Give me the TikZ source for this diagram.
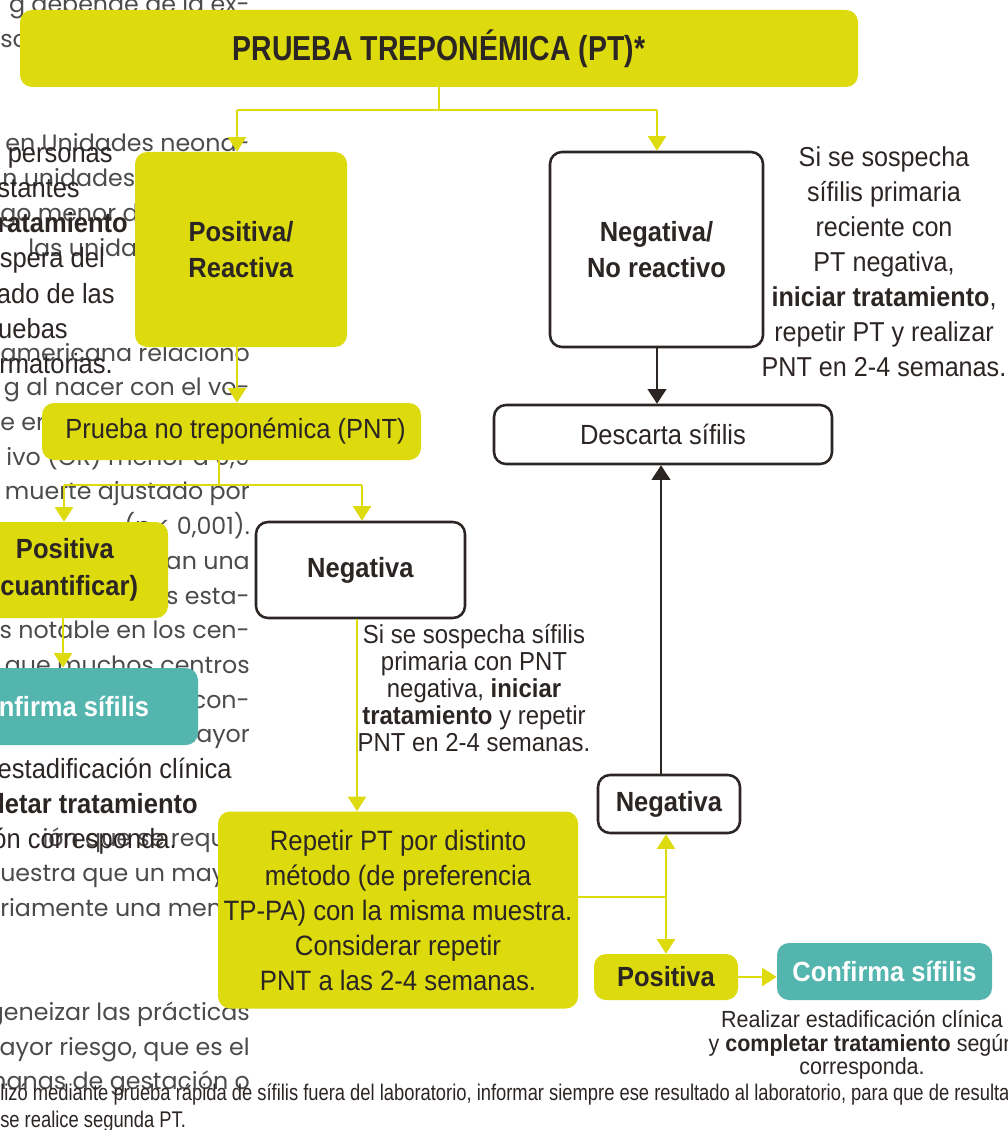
\documentclass[tikz,border=0pt]{standalone}
\usepackage{fontspec}
\setmainfont{Liberation Sans}[FakeStretch=0.92]
\newfontfamily\titlefont{Liberation Sans}[FakeStretch=0.82]
\newfontfamily\notefont{Liberation Sans}[FakeStretch=0.81]
\newfontfamily\prosefont{Poppins}
\usetikzlibrary{arrows.meta}
\definecolor{yel}{RGB}{221,218,14}
\definecolor{tealc}{RGB}{84,181,174}
\definecolor{ink}{RGB}{43,37,35}
\definecolor{prosec}{RGB}{75,75,75}
\tikzset{
  box/.style={rounded corners=9pt, inner sep=0pt, align=center, text=ink,
    font=\fontsize{20.8}{27.5}\selectfont},
  ybox/.style={box, fill=yel},
  wbox/.style={box, fill=white, draw=ink, line width=1.9pt},
  tbox/.style={box, fill=tealc, text=white},
  yl/.style={draw=yel, line width=1.9pt},
  ya/.style={yl, -{Triangle[width=13.5pt,length=11pt]}},
  da/.style={draw=ink, line width=1.6pt, -{Triangle[width=14pt,length=11pt]}},
  prose/.style={inner sep=0pt, text=prosec, font=\prosefont\fontsize{17.8}{20}\selectfont},
  darkline/.style={inner sep=0pt, text=ink, font=\fontsize{20.8}{26}\selectfont},
  note/.style={inner sep=0pt, align=center, text=ink},
}
\begin{document}
\begin{tikzpicture}[x=0.75pt,y=-0.75pt]
\useasboundingbox (0,0) rectangle (1007,1130);
\clip (0,0) rectangle (1007,1130);

% running text of the page column behind the chart
\node[prose, anchor=base east] (p01) at (250,13) {g depende de la ex-};
\node[prose, anchor=base west] (p02) at (0,48) {so};
\node[prose, anchor=base east] (p03) at (250,152) {s en Unidades neona-};
\node[prose, anchor=base west] (p04) at (2,187) {n unidades de};
\node[prose, anchor=base west] (p05) at (0,222) {go menor de};
\node[prose, anchor=base west] (p06) at (28,257) {las unidades};
\node[prose, anchor=base east] (p07) at (250,361) {oamericana relacionó};
\node[prose, anchor=base east] (p08) at (250,395) {g al nacer con el vo-};
\node[prose, anchor=base west] (p09) at (0,430) {e en};
\node[prose, anchor=base east] (p10) at (250,465) {ivo (OR) menor a 0,9};
\node[prose, anchor=base east] (p11) at (250,499) {muerte ajustado por};
\node[prose, anchor=base east] (p12) at (250,534) {(p < 0,001).};
\node[prose, anchor=base east] (p13) at (250,569) {an una};
\node[prose, anchor=base east] (p14) at (250,604) {s esta-};
\node[prose, anchor=base east] (p15) at (250,638) {s notable en los cen-};
\node[prose, anchor=base east] (p16) at (250,673) {que muchos centros};
\node[prose, anchor=base east] (p17) at (250,708) {con-};
\node[prose, anchor=base east] (p18) at (250,742) {mayor};
\node[prose, anchor=base east] (p19) at (226,846) {ión que se requ};
\node[prose, anchor=base west] (p20) at (0,881) {uestra que un mayor};
\node[prose, anchor=base west] (p21) at (0,916) {riamente una menor};
\node[prose, anchor=base east] (p22) at (250,1020) {geneizar las prácticas};
\node[prose, anchor=base east] (p23) at (250,1055) {ayor riesgo, que es el};
\node[prose, anchor=base east] (p24) at (250,1089) {manas de gestación o};

% left column of the neighbouring chart
\node[darkline, anchor=base east] (d01) at (113,163) {s personas};
\node[darkline, anchor=base east] (d02) at (80,198) {stantes};
\node[darkline, anchor=base east] (d03) at (128,233) {\textbf{tratamiento}};
\node[darkline, anchor=base east] (d04) at (105,268) {spera del};
\node[darkline, anchor=base east] (d05) at (115,303) {ado de las};
\node[darkline, anchor=base east] (d06) at (68,338) {uebas};
\node[darkline, anchor=base east] (d07) at (113,373) {rmatorias.};
\node[darkline, anchor=base east] (d08) at (232,778) {estadificación clínica};
\node[darkline, anchor=base east] (d09) at (198,813) {\textbf{completar tratamiento}};
\node[darkline, anchor=base east] (d10) at (177,848) {ión corresponda.};

% footnote
\node[inner sep=0pt, text=ink, anchor=base west, font=\notefont\fontsize{17}{20}\selectfont] (fn1) at (0,1100)
  {lizó mediante prueba rápida de sífilis fuera del laboratorio, informar siempre ese resultado al laboratorio, para que de resulta};
\node[inner sep=0pt, text=ink, anchor=base west, font=\notefont\fontsize{17}{20}\selectfont] (fn2) at (0,1127)
  {se realice segunda PT.};

% boxes
\node[ybox, minimum width=628.5pt, minimum height=57.75pt,
      font=\titlefont\bfseries\fontsize{26}{30}\selectfont] (title) at (439,48.5) {PRUEBA TREPONÉMICA (PT)*};
\node[ybox, minimum width=159pt, minimum height=146.25pt] (pos) at (241,249.5) {\textbf{Positiva/}\\\textbf{Reactiva}};
\node[wbox, minimum width=159.75pt, minimum height=146.25pt] (neg) at (656.5,249.5) {\textbf{Negativa/}\\\textbf{No reactivo}};
\node[wbox, minimum width=253.5pt, minimum height=44.25pt] (desc) at (663,434.5) {Descarta sífilis};
\node[ybox, minimum width=284.25pt, minimum height=42.75pt] (pnt) at (231.5,431.5) {\hspace*{6pt}Prueba no treponémica (PNT)};
\node[ybox, minimum width=154.5pt, minimum height=72pt] (posq) at (65,570) {\textbf{Positiva}\\\textbf{(cuantificar)}};
\node[tbox, minimum width=211.5pt, minimum height=57.75pt] (confl) at (57,706.5) {\textbf{Confirma sífilis}};
\node[wbox, minimum width=156.75pt, minimum height=72pt] (negm) at (360.5,570) {\textbf{Negativa}};
\node[ybox, minimum width=270pt, minimum height=147.75pt, font=\fontsize{21}{26.25}\selectfont] (rep) at (398,910)
  {Repetir PT por distinto\\método (de preferencia\\TP-PA) con la misma muestra.\\Considerar repetir\\PNT a las 2-4 semanas.};
\node[wbox, minimum width=106.5pt, minimum height=43.5pt] (negs) at (669,804) {\textbf{Negativa}};
\node[ybox, minimum width=108pt, minimum height=34.5pt] (poss) at (666,977) {\textbf{Positiva}};
\node[tbox, minimum width=161.25pt, minimum height=42.75pt] (confr) at (884.5,971.5) {\textbf{Confirma sífilis}};

% side notes
\node[note, font=\fontsize{20.5}{26.25}\selectfont] (noteR) at (884,262)
  {Si se sospecha\\sífilis primaria\\reciente con\\PT negativa,\\\textbf{iniciar tratamiento},\\repetir PT y realizar\\PNT en 2-4 semanas.};
\node[note, font=\fontsize{19.5}{20.25}\selectfont] (noteM) at (474,688)
  {Si se sospecha sífilis\\primaria con PNT\\negativa, \textbf{iniciar}\\\textbf{tratamiento} y repetir\\PNT en 2-4 semanas.};
\node[note, font=\fontsize{17.5}{17.5}\selectfont] (noteB) at (862,1045)
  {Realizar estadificación clínica\\y \textbf{completar tratamiento} según\\corresponda.};

% connectors
\coordinate (j1) at (439,110);
\coordinate (j1l) at (237,110);
\coordinate (j1r) at (657,110);
\draw[yl] (title.south) -- (j1);
\draw[yl] (j1l) -- (j1r);
\draw[ya] (j1l) -- (j1l |- pos.north);
\draw[ya] (j1r) -- (j1r |- neg.north);
\draw[da] (neg.south -| j1r) -- (j1r |- desc.north);
\draw[ya] (pos.south -| j1l) -- (j1l |- pnt.north);

\coordinate (j2) at (219,485);
\coordinate (j2l) at (64,485);
\coordinate (j2r) at (362,485);
\draw[yl] (pnt.south -| j2) -- (j2);
\draw[yl] (j2l) -- (j2r);
\draw[ya] (j2l) -- (j2l |- posq.north);
\draw[ya] (j2r) -- (j2r |- negm.north);
\coordinate (k0) at (63,0);
\draw[ya] (posq.south -| k0) -- (confl.north -| k0);

\coordinate (k1) at (357,0);
\draw[ya] (negm.south -| k1) -- (rep.north -| k1);

\coordinate (j3) at (666,897);
\coordinate (k2) at (661,0);
\draw[yl] (rep.east |- j3) -- (j3);
\draw[ya] (j3) -- (j3 |- negs.south);
\draw[ya] (j3) -- (j3 |- poss.north);
\draw[da] (negs.north -| k2) -- (desc.south -| k2);
\draw[ya] (poss.east) -- (confr.west |- poss.east);
\end{tikzpicture}
\end{document}
